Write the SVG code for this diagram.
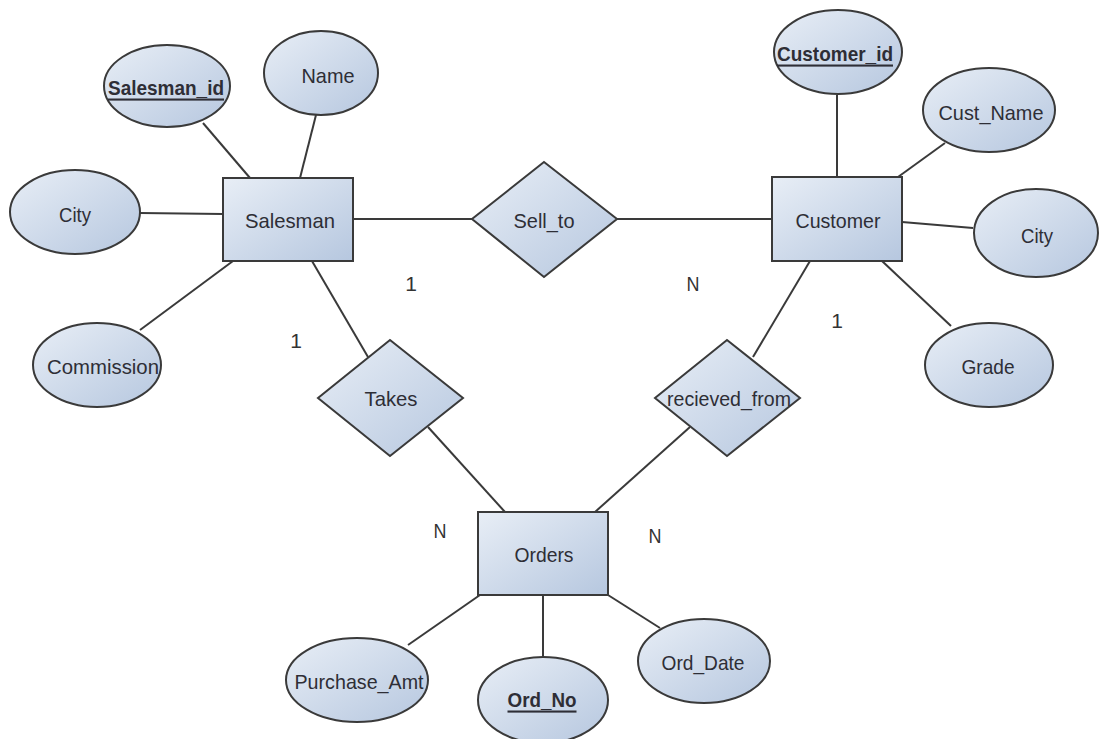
<svg xmlns="http://www.w3.org/2000/svg" width="1100" height="739" viewBox="0 0 1100 739">
<defs>
<linearGradient id="g" x1="0" y1="0" x2="1" y2="1">
<stop offset="0" stop-color="#e8eef6"/>
<stop offset="1" stop-color="#b6c7df"/>
</linearGradient>
<style>
.s{fill:url(#g);stroke:#3a3a3a;stroke-width:2}
.t{font-family:"Liberation Sans Narrow","Liberation Sans",Arial,sans-serif;font-size:21px;fill:#2e2e36;text-anchor:middle;dominant-baseline:central}
.k{font-weight:bold;text-decoration:underline}
.c line{stroke:#3a3a3a;stroke-width:2}
.l{font-family:"Liberation Sans",Arial,sans-serif;font-size:21px;fill:#333;text-anchor:middle;dominant-baseline:central}
</style>
</defs>
<rect width="1100" height="739" fill="#fff"/>
<g class="c" id="connectors">
<line x1="203" y1="123" x2="250" y2="178"/>
<line x1="316" y1="115" x2="300" y2="178"/>
<line x1="140" y1="213" x2="223" y2="214"/>
<line x1="140" y1="330" x2="233" y2="261"/>
<line x1="353" y1="219" x2="472" y2="219"/>
<line x1="617" y1="219" x2="772" y2="219"/>
<line x1="312" y1="261" x2="368" y2="357"/>
<line x1="428" y1="427" x2="505" y2="512"/>
<line x1="837" y1="95" x2="837" y2="177"/>
<line x1="945" y1="143" x2="898" y2="177"/>
<line x1="902" y1="222" x2="973" y2="228"/>
<line x1="882" y1="261" x2="951" y2="326"/>
<line x1="810" y1="261" x2="753" y2="357"/>
<line x1="690" y1="427" x2="595" y2="512"/>
<line x1="480" y1="595" x2="408" y2="645"/>
<line x1="543" y1="595" x2="543" y2="657"/>
<line x1="608" y1="595" x2="660" y2="628"/>
</g>
<g id="salesman_id"><ellipse class="s" cx="167" cy="86" rx="63" ry="41"/><text class="t k" x="166" y="87" textLength="116" lengthAdjust="spacingAndGlyphs">Salesman_id</text></g>
<g id="name"><ellipse class="s" cx="321" cy="73" rx="57" ry="42"/><text class="t" x="328" y="75" textLength="53" lengthAdjust="spacingAndGlyphs">Name</text></g>
<g id="city1"><ellipse class="s" cx="75" cy="212" rx="65" ry="42"/><text class="t" x="75" y="214" textLength="32" lengthAdjust="spacingAndGlyphs">City</text></g>
<g id="commission"><ellipse class="s" cx="97" cy="365" rx="64" ry="42"/><text class="t" x="103" y="366" textLength="112" lengthAdjust="spacingAndGlyphs">Commission</text></g>
<g id="salesman"><rect class="s" x="223" y="178" width="130" height="83"/><text class="t" x="290" y="220" textLength="90" lengthAdjust="spacingAndGlyphs">Salesman</text></g>
<g id="sell_to"><polygon class="s" points="544,162 617,219 544,277 472,219"/><text class="t" x="544" y="220" textLength="61" lengthAdjust="spacingAndGlyphs">Sell_to</text></g>
<g id="customer"><rect class="s" x="772" y="177" width="130" height="84"/><text class="t" x="838" y="220" textLength="85" lengthAdjust="spacingAndGlyphs">Customer</text></g>
<g id="customer_id"><ellipse class="s" cx="838" cy="52" rx="64" ry="42"/><text class="t k" x="835" y="53" textLength="116" lengthAdjust="spacingAndGlyphs">Customer_id</text></g>
<g id="cust_name"><ellipse class="s" cx="989" cy="110" rx="66" ry="42"/><text class="t" x="991" y="112" textLength="105" lengthAdjust="spacingAndGlyphs">Cust_Name</text></g>
<g id="city2"><ellipse class="s" cx="1036" cy="233" rx="62" ry="44"/><text class="t" x="1037" y="235" textLength="32" lengthAdjust="spacingAndGlyphs">City</text></g>
<g id="grade"><ellipse class="s" cx="989" cy="365" rx="64" ry="42"/><text class="t" x="988" y="366" textLength="53" lengthAdjust="spacingAndGlyphs">Grade</text></g>
<g id="takes"><polygon class="s" points="390,340 463,398 390,456 318,398"/><text class="t" x="391" y="398" textLength="53" lengthAdjust="spacingAndGlyphs">Takes</text></g>
<g id="recieved_from"><polygon class="s" points="727,340 800,398 727,456 655,398"/><text class="t" x="729" y="398" textLength="124" lengthAdjust="spacingAndGlyphs">recieved_from</text></g>
<g id="orders"><rect class="s" x="478" y="512" width="130" height="83"/><text class="t" x="544" y="554" textLength="59" lengthAdjust="spacingAndGlyphs">Orders</text></g>
<g id="purchase_amt"><ellipse class="s" cx="357" cy="680" rx="71" ry="42"/><text class="t" x="359" y="681" textLength="129" lengthAdjust="spacingAndGlyphs">Purchase_Amt</text></g>
<g id="ord_no"><ellipse class="s" cx="543" cy="700" rx="65" ry="43"/><text class="t k" x="542" y="699" textLength="69" lengthAdjust="spacingAndGlyphs">Ord_No</text></g>
<g id="ord_date"><ellipse class="s" cx="704" cy="661" rx="66" ry="42"/><text class="t" x="703" y="662" textLength="83" lengthAdjust="spacingAndGlyphs">Ord_Date</text></g>
<g id="labels">
<text class="l" x="411" y="283">1</text>
<text class="l" x="296" y="340">1</text>
<text class="l" x="693" y="283" textLength="13" lengthAdjust="spacingAndGlyphs">N</text>
<text class="l" x="837" y="320">1</text>
<text class="l" x="440" y="530" textLength="13" lengthAdjust="spacingAndGlyphs">N</text>
<text class="l" x="655" y="535" textLength="13" lengthAdjust="spacingAndGlyphs">N</text>
</g>
</svg>
